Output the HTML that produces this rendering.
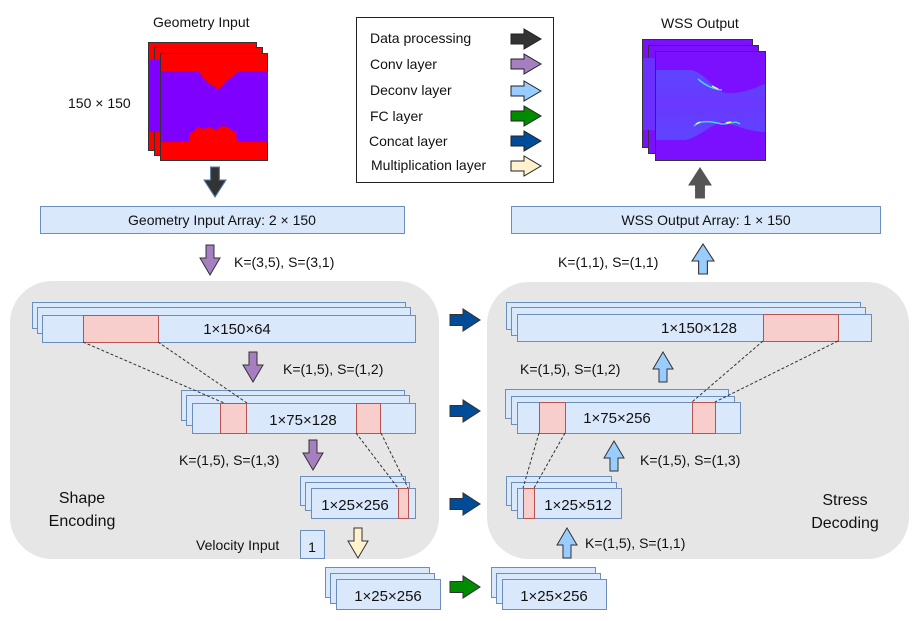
<!DOCTYPE html>
<html><head><meta charset="utf-8"><style>
html,body{margin:0;padding:0;background:#fff;}
svg{display:block;}
text{font-family:"Liberation Sans",Arial,sans-serif;font-size:14px;fill:#111;}
</style></head><body>
<svg width="919" height="621" viewBox="0 0 919 621" xmlns="http://www.w3.org/2000/svg">
<defs>
<path id="ad" d="M6,0 H14 V13 H20 L10,30 L0,13 H6 Z"/>
<path id="ar" d="M0,5 H13 V0 L30,10 L13,20 V15 H0 Z"/>
<linearGradient id="wg" x1="0" y1="0" x2="0" y2="1">
<stop offset="0" stop-color="#5d45ff"/><stop offset="0.5" stop-color="#6a38ff"/><stop offset="1" stop-color="#5d45ff"/></linearGradient>
</defs>

<!-- panels -->
<rect x="10" y="281" width="429" height="278" rx="42" fill="#e6e6e6"/>
<rect x="487" y="282" width="422" height="277" rx="42" fill="#e6e6e6"/>

<!-- Geometry input images -->
<text x="153" y="27">Geometry Input</text>
<text x="68" y="108">150 × 150</text>
<g stroke="#333" stroke-width="1">
<rect x="148.5" y="42.5" width="108" height="108" fill="#ff0000"/>
<rect x="154.5" y="47.5" width="108" height="108" fill="#ff0000"/>
<rect x="160.5" y="53.5" width="107" height="107" fill="#ff0000"/>
</g>
<rect x="149" y="60" width="11" height="72" fill="#7f00ff"/>
<rect x="161" y="71" width="107" height="71" fill="#7f00ff"/>
<path d="M199,71 L200,67 L205,64 L212,63 L218,60 L226,63 L231,68 L240,71 L236,73 L231,78 L226,81 L222,86 L218,90 L214,86 L209,84 L205,80 L201,75 Z" fill="#ff0000"/>
<path d="M189,142 L190,134 L194,131 L198,127 L204,129 L210,127 L216,130 L222,126 L228,127 L231,130 L236,132 L237,142 Z" fill="#ff0000"/>

<!-- WSS output images -->
<text x="661" y="28">WSS Output</text>
<g stroke="#333" stroke-width="1">
<rect x="642.5" y="39.5" width="110" height="108" fill="#7a10ff"/>
<rect x="648.5" y="45.5" width="110" height="108" fill="#7a10ff"/>
<rect x="655.5" y="51.5" width="110" height="109" fill="#7a10ff"/>
</g>
<rect x="643" y="58" width="12" height="72" fill="#6a30ff"/>
<path d="M656,70 H690 C705,72 712,88 722,92 C738,96 755,88 765,84 V132 C750,132 738,126 722,122 C708,126 698,138 685,140 H656 Z" fill="url(#wg)"/>
<path d="M698,79 C705,85 712,89 722,90" stroke="#4ad0ff" stroke-width="1.5" fill="none"/>
<path d="M712,86 L718,89" stroke="#e0ff70" stroke-width="1.5"/>
<path d="M694,126 C700,120 710,121 722,124 C730,124 735,120 740,124" stroke="#4ad0ff" stroke-width="1.5" fill="none"/>
<path d="M696,124 L700,122 M726,123 L731,122" stroke="#e0ff70" stroke-width="1.5"/>

<!-- legend -->
<rect x="356.5" y="17.5" width="197" height="165" fill="#fff" stroke="#222" stroke-width="1"/>
<text x="370" y="43">Data processing</text>
<text x="370" y="69">Conv layer</text>
<text x="370" y="95">Deconv layer</text>
<text x="370" y="121">FC layer</text>
<text x="369" y="146">Concat layer</text>
<text x="371" y="170">Multiplication layer</text>
<g stroke="#222" stroke-width="1">
<use href="#ar" transform="translate(511,29)" fill="#333"/>
<use href="#ar" transform="translate(511,54)" fill="#a57fbf"/>
<use href="#ar" transform="translate(511,81)" fill="#99ccff"/>
<use href="#ar" transform="translate(511,106)" fill="#008c00"/>
<use href="#ar" transform="translate(511,131)" fill="#004c99"/>
<use href="#ar" transform="translate(511,156)" fill="#fff2cc"/>
</g>

<!-- top arrows -->
<g stroke="#5577aa" stroke-width="1">
<use href="#ad" transform="translate(204,167) scale(1.1,1)" fill="#333"/>
</g>
<g stroke="#333" stroke-width="1">
<use href="#ad" transform="translate(200,245)" fill="#a57fbf"/>
<use href="#ad" transform="translate(689,198) scale(1.1,-1)" fill="#555" stroke="#555"/>
<use href="#ad" transform="translate(692,274) scale(1.1,-1)" fill="#99ccff"/>
</g>

<!-- arrays -->
<rect x="40.5" y="206.5" width="364" height="27" fill="#dae8fc" stroke="#6c8ebf"/>
<text x="222" y="225" text-anchor="middle">Geometry Input Array: 2 × 150</text>
<rect x="511.5" y="206.5" width="369" height="27" fill="#dae8fc" stroke="#6c8ebf"/>
<text x="706" y="225" text-anchor="middle">WSS Output Array: 1 × 150</text>
<text x="234" y="267">K=(3,5), S=(3,1)</text>
<text x="558" y="267">K=(1,1), S=(1,1)</text>

<!-- stacks -->
<g fill="#dae8fc" stroke="#6c8ebf" stroke-width="1">
<rect x="32.5" y="302.5" width="373" height="26"/><rect x="37.5" y="307.5" width="373" height="26"/><rect x="42.5" y="315.5" width="373" height="27"/>
<rect x="181.5" y="390.5" width="223" height="30"/><rect x="186.5" y="395.5" width="223" height="30"/><rect x="192.5" y="403.5" width="223" height="30"/>
<rect x="300.5" y="476.5" width="105" height="29"/><rect x="305.5" y="482.5" width="104" height="28"/><rect x="311.5" y="488.5" width="104" height="30"/>
<rect x="325.5" y="567.5" width="104" height="30"/><rect x="330.5" y="573.5" width="104" height="30"/><rect x="336.5" y="579.5" width="104" height="30"/>
<rect x="491.5" y="567.5" width="104" height="30"/><rect x="496.5" y="573.5" width="104" height="30"/><rect x="502.5" y="579.5" width="104" height="30"/>
<rect x="506.5" y="302.5" width="354" height="27"/><rect x="511.5" y="307.5" width="354" height="28"/><rect x="517.5" y="314.5" width="354" height="27"/>
<rect x="505.5" y="389.5" width="223" height="29"/><rect x="511.5" y="396.5" width="223" height="28"/><rect x="517.5" y="402.5" width="223" height="31"/>
<rect x="506.5" y="476.5" width="105" height="29"/><rect x="511.5" y="482.5" width="105" height="28"/><rect x="517.5" y="488.5" width="104" height="30"/>
<rect x="300.5" y="530.5" width="24" height="28"/>
</g>
<g fill="#f8cecc" stroke="#b85450" stroke-width="1">
<rect x="83.5" y="315.5" width="75" height="27"/>
<rect x="220.5" y="403.5" width="26" height="30"/><rect x="356.5" y="403.5" width="24" height="30"/>
<rect x="398.5" y="488.5" width="10" height="30"/>
<rect x="763.5" y="314.5" width="75" height="27"/>
<rect x="539.5" y="402.5" width="26" height="31"/><rect x="692.5" y="402.5" width="23" height="31"/>
<rect x="523.5" y="488.5" width="11" height="30"/>
</g>
<g stroke="#333" stroke-width="1" stroke-dasharray="3,2" fill="none">
<path d="M83,342 L224,403 M158,342 L247,403 M356,433 L398,488 M381,433 L408,488"/>
<path d="M763,341 L692,402 M838,341 L715,402 M539,433 L523,488 M565,433 L534,488"/>
</g>

<g style="font-size:15px">
<text x="237" y="334" text-anchor="middle" style="font-size:15px">1×150×64</text>
<text x="303" y="425" text-anchor="middle" style="font-size:15px">1×75×128</text>
<text x="355" y="510" text-anchor="middle" style="font-size:15px">1×25×256</text>
<text x="388" y="601" text-anchor="middle" style="font-size:15px">1×25×256</text>
<text x="554" y="601" text-anchor="middle" style="font-size:15px">1×25×256</text>
<text x="699" y="333" text-anchor="middle" style="font-size:15px">1×150×128</text>
<text x="617" y="423" text-anchor="middle" style="font-size:15px">1×75×256</text>
<text x="578" y="510" text-anchor="middle" style="font-size:15px">1×25×512</text>
</g>
<text x="312" y="552" text-anchor="middle">1</text>
<text x="196" y="550">Velocity Input</text>

<text x="283" y="374">K=(1,5), S=(1,2)</text>
<text x="179" y="465">K=(1,5), S=(1,3)</text>
<text x="520" y="374">K=(1,5), S=(1,2)</text>
<text x="640" y="465">K=(1,5), S=(1,3)</text>
<text x="585" y="548">K=(1,5), S=(1,1)</text>

<text x="82" y="503" text-anchor="middle" style="font-size:16px">Shape</text>
<text x="82" y="526" text-anchor="middle" style="font-size:16px">Encoding</text>
<text x="845" y="505" text-anchor="middle" style="font-size:16px">Stress</text>
<text x="845" y="528" text-anchor="middle" style="font-size:16px">Decoding</text>

<!-- layer arrows -->
<g stroke="#333" stroke-width="1">
<use href="#ad" transform="translate(243,352)" fill="#a57fbf"/>
<use href="#ad" transform="translate(303,440)" fill="#a57fbf"/>
<use href="#ad" transform="translate(348,528)" fill="#fff2cc"/>
<use href="#ad" transform="translate(653,382) scale(1,-1)" fill="#99ccff"/>
<use href="#ad" transform="translate(604,471) scale(1,-1)" fill="#99ccff"/>
<use href="#ad" transform="translate(557,558) scale(1,-1)" fill="#99ccff"/>
<use href="#ar" transform="translate(450,309) scale(1,1.1)" fill="#004c99"/>
<use href="#ar" transform="translate(450,400) scale(1,1.1)" fill="#004c99"/>
<use href="#ar" transform="translate(450,493) scale(1,1.1)" fill="#004c99"/>
<use href="#ar" transform="translate(450,576) scale(1,1.1)" fill="#008c00"/>
</g>
</svg>
</body></html>
